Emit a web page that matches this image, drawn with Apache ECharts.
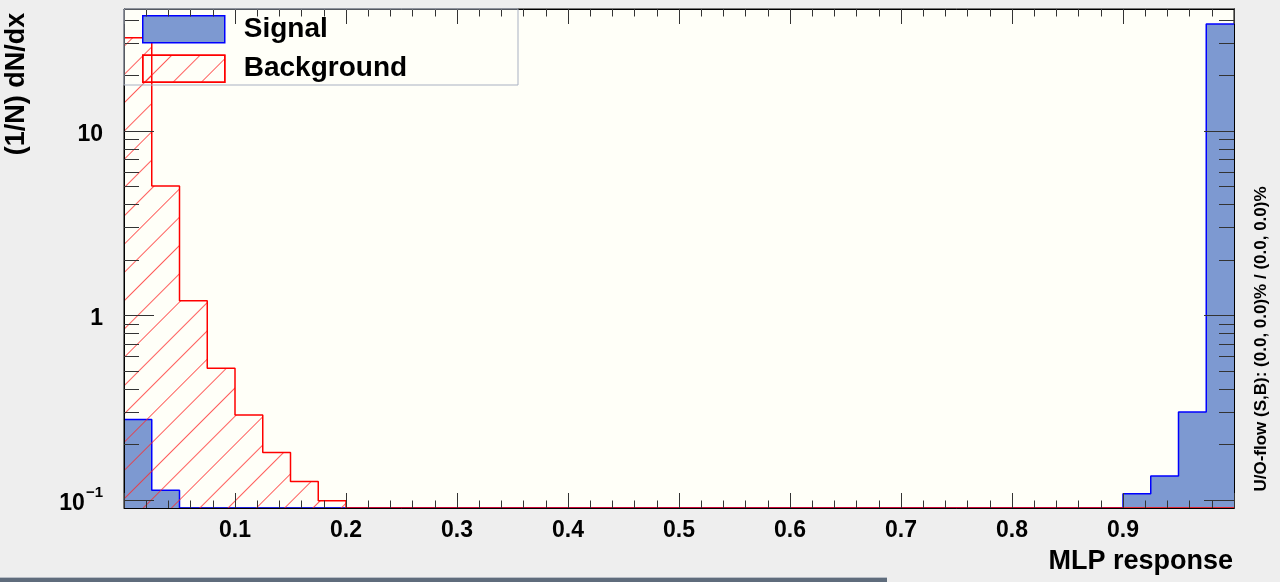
<!DOCTYPE html>
<html><head><meta charset="utf-8">
<script src="https://cdn.jsdelivr.net/npm/echarts@6/dist/echarts.min.js"></script>
<style>html,body{margin:0;padding:0;background:#eeeeee;}#c{width:1280px;height:582px;}</style>
</head><body><div id="c"></div>
<script>
// ---- data ----
const binLowEdges = [0.000,0.025,0.050,0.075,0.100,0.125,0.150,0.175,0.200,0.225,
                     0.250,0.275,0.300,0.325,0.350,0.375,0.400,0.425,0.450,0.475,
                     0.500,0.525,0.550,0.575,0.600,0.625,0.650,0.675,0.700,0.725,
                     0.750,0.775,0.800,0.825,0.850,0.875,0.900,0.925,0.950,0.975];
const binWidth = 0.025;
const signalValues = [0.273,0.113,0,0,0,0,0,0,0,0,
                      0,0,0,0,0,0,0,0,0,0,
                      0,0,0,0,0,0,0,0,0,0,
                      0,0,0,0,0,0,0.108,0.135,0.300,38.0];
const backgroundValues = [32.0,5.03,1.20,0.517,0.289,0.181,0.126,0.099,0,0,
                          0,0,0,0,0,0,0,0,0,0,
                          0,0,0,0,0,0,0,0,0,0,
                          0,0,0,0,0,0,0,0,0,0];
const xTickLabels = ['0.1','0.2','0.3','0.4','0.5','0.6','0.7','0.8','0.9'];
const yMajorTicks = [0.1, 1, 10];
const yMinorTicks = [0.2,0.3,0.4,0.5,0.6,0.7,0.8,0.9,2,3,4,5,6,7,8,9,20,30,40];
const yMin = 0.0905, yMax = 45.8;
const xMin = 0, xMax = 1;

const FONT = "'Liberation Sans', Arial, Helvetica, sans-serif";

function stepPoints(vals) {
  const pts = binLowEdges.map((x, i) => [x, Math.max(vals[i], yMin)]);
  pts.push([binLowEdges[binLowEdges.length - 1] + binWidth, Math.max(vals[vals.length - 1], yMin)]);
  return pts;
}

const hatchDecal = {
  symbol: 'rect', symbolSize: 1, color: 'rgba(255,40,40,0.75)',
  dashArrayX: [1, 0], dashArrayY: [1, 18.8], rotation: -Math.PI / 4
};

function yAxis(pos, ticks, len, showLabel) {
  return {
    type: 'log', logBase: 10, min: yMin, max: yMax, position: pos, z: 5,
    axisLine: { show: true, lineStyle: { color: '#000', width: 1 } },
    axisTick: { show: true, inside: true, length: len, customValues: ticks, lineStyle: { color: '#333', width: 1 } },
    axisLabel: {
      show: showLabel, customValues: yMajorTicks, margin: 21,
      fontSize: 23, fontWeight: 'bold', color: '#000', fontFamily: FONT,
      formatter: function (v) {
        if (Math.abs(v - 10) < 1e-6) return '{a|10}';
        if (Math.abs(v - 1) < 1e-6) return '{a|1}';
        return '{a|10}{s|\u22121}';
      },
      rich: {
        a: { fontSize: 23, fontWeight: 'bold', fontFamily: FONT, color: '#000', verticalAlign: 'bottom', lineHeight: 30 },
        s: { fontSize: 15, fontWeight: 'bold', fontFamily: FONT, color: '#000', verticalAlign: 'top', lineHeight: 30, padding: [0, 0, 0, 1] }
      }
    },
    splitLine: { show: false }, minorTick: { show: false }, minorSplitLine: { show: false }
  };
}

function xAxis(pos, showLabel) {
  return {
    type: 'value', min: xMin, max: xMax, interval: 0.1, position: pos, z: 5,
    axisLine: { show: true, onZero: false, lineStyle: { color: '#000', width: 1 } },
    axisTick: { show: true, inside: true, length: 15, lineStyle: { color: '#333', width: 1 } },
    minorTick: { show: true, splitNumber: 5, length: 7.5, lineStyle: { color: '#333', width: 1 } },
    axisLabel: {
      show: showLabel, margin: 11, fontSize: 23, fontWeight: 'bold', color: '#000', fontFamily: FONT,
      showMinLabel: false, showMaxLabel: false,
      formatter: function (v) { const i = Math.round(v * 10) - 1; return xTickLabels[i] || ''; }
    },
    splitLine: { show: false }, minorSplitLine: { show: false }
  };
}

const chart = echarts.init(document.getElementById('c'), null, { renderer: 'canvas' });
chart.setOption({
  animation: false,
  backgroundColor: '#eeeeee',
  aria: { enabled: false, decal: { show: false } },
  grid: { left: 124, right: 46, top: 9, bottom: 74, show: true, backgroundColor: '#fffff8', borderColor: '#000', borderWidth: 1 },
  xAxis: [xAxis('bottom', true), xAxis('top', false)],
  yAxis: [yAxis('left', yMajorTicks, 30, true), yAxis('left', yMinorTicks, 15, false),
          yAxis('right', yMajorTicks, 30, false), yAxis('right', yMinorTicks, 15, false)],
  legend: {
    orient: 'vertical', left: 142, top: 15, padding: 0,
    itemWidth: 82, itemHeight: 27, itemGap: 11,
    textStyle: { fontSize: 28, fontWeight: 'bold', color: '#000', fontFamily: FONT, padding: [0, 0, 0, 14] },
    data: [
      { name: 'Signal', icon: 'rect', itemStyle: { color: '#7d99d1', borderColor: '#0000ff', borderWidth: 1.5 } },
      { name: 'Background', icon: 'rect', itemStyle: { color: 'rgba(255,255,248,0)', borderColor: '#ff0000', borderWidth: 1.5, decal: hatchDecal } }
    ]
  },
  series: [
    {
      type: 'line', name: 'Signal', data: stepPoints(signalValues), step: 'end', symbol: 'none',
      xAxisIndex: 0, yAxisIndex: 0, z: 2,
      lineStyle: { color: '#0000ff', width: 1.5 }, itemStyle: { color: '#7d99d1' },
      areaStyle: { color: '#7d99d1', opacity: 1, origin: 'start' }
    },
    {
      type: 'line', name: 'Background', data: stepPoints(backgroundValues), step: 'end', symbol: 'none',
      xAxisIndex: 0, yAxisIndex: 0, z: 3,
      lineStyle: { color: '#ff0000', width: 1.5 }, itemStyle: { color: 'rgba(255,255,248,0)', decal: hatchDecal },
      areaStyle: { color: 'rgba(255,255,248,0)', opacity: 1, origin: 'start', decal: hatchDecal }
    }
  ],
  graphic: [
    { type: 'rect', z: 10, shape: { x: 124, y: 9, width: 394, height: 76 }, style: { fill: 'none', stroke: '#a9b1c2', lineWidth: 1 } },
    { type: 'text', z: 10, x: 17, y: 84, rotation: Math.PI / 2,
      style: { text: '(1/N) dN/dx', fontSize: 27, fontWeight: 'bold', fontFamily: FONT, fill: '#000', align: 'center', verticalAlign: 'middle' } },
    { type: 'text', z: 10, x: 1233, y: 562,
      style: { text: 'MLP response', fontSize: 27, fontWeight: 'bold', fontFamily: FONT, fill: '#000', align: 'right', verticalAlign: 'middle' } },
    { type: 'text', z: 10, x: 1261, y: 339, rotation: Math.PI / 2,
      style: { text: 'U/O-flow (S,B): (0.0, 0.0)% / (0.0, 0.0)%', fontSize: 17, fontWeight: 'bold', fontFamily: FONT, fill: '#000', align: 'center', verticalAlign: 'middle' } },
    { type: 'rect', z: 10, shape: { x: 0, y: 577, width: 887, height: 5 }, style: { fill: '#5f6c7c' } },
    { type: 'rect', z: 10, shape: { x: 0, y: 577, width: 887, height: 1 }, style: { fill: '#b8bec6' } }
  ]
});
</script></body></html>
